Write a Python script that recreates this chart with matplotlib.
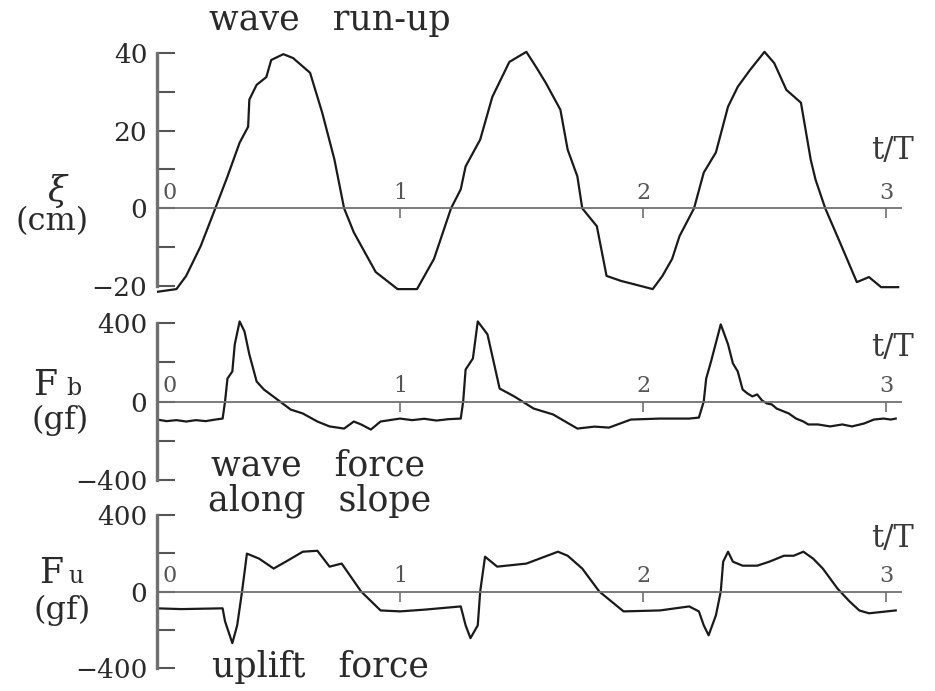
import matplotlib
matplotlib.use("Agg")
import matplotlib.pyplot as plt

plt.rcParams["font.family"] = ["DejaVu Serif"]
plt.rcParams["mathtext.fontset"] = "dejavuserif"

# ---- data -------------------------------------------------------------
t_runup = [0.00, 0.08, 0.12, 0.18, 0.24, 0.29, 0.34, 0.375, 0.38, 0.41, 0.45, 0.47,
           0.52, 0.56, 0.63, 0.68, 0.73, 0.77, 0.81, 0.90, 0.99, 1.07, 1.14, 1.21,
           1.25, 1.27, 1.33, 1.38, 1.45, 1.52, 1.56, 1.60, 1.66, 1.69, 1.73, 1.75,
           1.81, 1.85, 1.91, 1.96, 2.04, 2.08, 2.12, 2.15, 2.21, 2.25, 2.30, 2.35,
           2.39, 2.44, 2.50, 2.54, 2.59, 2.65, 2.69, 2.71, 2.75, 2.81, 2.88, 2.93,
           2.98, 3.05]
xi_runup = [-21.5, -20.8, -17.4, -9.7, 0.0, 8.2, 16.9, 21.0, 28.0, 31.8, 33.8, 38.2,
            39.7, 38.7, 34.9, 24.6, 12.6, 0.0, -6.2, -16.4, -20.8, -20.8, -13.0, 0.0,
            4.9, 10.8, 17.7, 28.7, 37.7, 40.3, 36.4, 32.3, 25.4, 15.1, 8.2, 0.0,
            -4.6, -17.4, -18.7, -19.5, -20.8, -17.4, -13.0, -7.2, 0.0, 9.2, 14.4, 26.2,
            31.3, 35.6, 40.3, 37.4, 30.5, 27.2, 12.6, 7.4, 0.0, -8.7, -19.0, -17.7,
            -20.3, -20.3]

t_fb = [0.00, 0.04, 0.08, 0.12, 0.16, 0.20, 0.24, 0.27, 0.28, 0.29, 0.31, 0.32,
        0.34, 0.36, 0.38, 0.41, 0.44, 0.49, 0.55, 0.60, 0.66, 0.71, 0.77, 0.81,
        0.84, 0.88, 0.92, 1.00, 1.05, 1.10, 1.15, 1.20, 1.25, 1.26, 1.27, 1.30,
        1.32, 1.36, 1.41, 1.47, 1.55, 1.63, 1.73, 1.80, 1.86, 1.95, 2.07, 2.19,
        2.23, 2.25, 2.26, 2.28, 2.32, 2.35, 2.37, 2.39, 2.41, 2.43, 2.45, 2.47,
        2.49, 2.51, 2.53, 2.55, 2.58, 2.60, 2.63, 2.66, 2.68, 2.72, 2.77, 2.82,
        2.86, 2.91, 2.95, 2.99, 3.02, 3.04]
fb_val = [-92, -100, -95, -102, -95, -100, -92, -87, 0, 117, 153, 291,
          408, 357, 240, 102, 61, 15, -41, -61, -102, -127, -138, -102,
          -117, -143, -102, -87, -95, -88, -97, -90, -87, 0, 163, 219,
          408, 342, 66, 26, -36, -66, -138, -128, -133, -92, -87, -87,
          -82, 0, 117, 204, 393, 291, 194, 153, 61, 41, 26, 36,
          5, -10, -15, -36, -51, -61, -87, -102, -117, -117, -127, -117,
          -127, -112, -92, -87, -92, -87]

t_fu = [0.00, 0.10, 0.27, 0.28, 0.31, 0.33, 0.35, 0.37, 0.42, 0.48, 0.53, 0.60,
        0.66, 0.71, 0.76, 0.84, 0.92, 1.00, 1.10, 1.25, 1.27, 1.29, 1.32, 1.33,
        1.35, 1.40, 1.52, 1.65, 1.69, 1.75, 1.82, 1.92, 2.07, 2.19, 2.23, 2.25,
        2.27, 2.30, 2.32, 2.33, 2.35, 2.37, 2.41, 2.47, 2.52, 2.58, 2.62, 2.66,
        2.70, 2.74, 2.80, 2.85, 2.89, 2.93, 3.04]
fu_val = [-88, -92, -88, -156, -270, -177, 0, 198, 172, 120, 156, 208,
          213, 130, 146, 0, -99, -104, -95, -78, -177, -244, -177, 0,
          182, 130, 146, 208, 187, 120, 0, -104, -99, -78, -104, -177,
          -229, -125, 0, 156, 208, 156, 135, 135, 156, 187, 187, 208,
          172, 120, 16, -52, -99, -114, -99]

period_ticks = [0, 1, 2, 3]
period_labels = ["0", "1", "2", "3"]

runup_ticks = [-20, -10, 0, 10, 20, 30, 40]
runup_labels = ["\u221220", "", "0", "", "20", "", "40"]
force_ticks = [-400, -200, 0, 200, 400]
force_labels = ["\u2212400", "", "0", "", "400"]

# ---- figure -----------------------------------------------------------
W, H = 935, 691
fig = plt.figure(figsize=(W / 100, H / 100), dpi=100)

T_END = 3.06
X0, PX_PER_T = 157, 243.0
INK = "#1a1a1a"


def add_panel(top_px, bot_px, ylim):
    ax = fig.add_axes([X0 / W, 1 - bot_px / H, (W - X0) / W, (bot_px - top_px) / H])
    ax.set_xlim(0, (W - X0) / PX_PER_T)
    ax.set_ylim(*ylim)
    ax.patch.set_alpha(0)
    return ax


def style_panel(ax, yticks, ylabels, ybounds):
    for s in ("top", "right"):
        ax.spines[s].set_visible(False)
    ax.spines["left"].set_bounds(*ybounds)
    ax.spines["left"].set_linewidth(2.4)
    ax.spines["left"].set_color("#707070")
    ax.spines["bottom"].set_position(("data", 0))
    ax.spines["bottom"].set_bounds(0, T_END)
    ax.spines["bottom"].set_color("#707070")
    ax.spines["bottom"].set_linewidth(1.3)
    ax.set_yticks(yticks)
    ax.set_yticklabels(ylabels)
    ax.tick_params(axis="y", direction="in", length=13, width=1.5,
                   color="#555555", pad=7, labelsize=19, labelcolor="#2a2a2a")
    ax.set_xticks(period_ticks[1:])
    ax.set_xticklabels([])
    ax.tick_params(axis="x", direction="out", length=7, width=1.2, color="#707070")
    for tk, lb in zip(period_ticks, period_labels):
        dx = 9 if tk == 0 else 0
        ax.annotate(lb, (tk, 0), xytext=(dx, 3), textcoords="offset points",
                    ha="center", va="bottom", fontsize=16, color="#555555")


def ftext(x, y, s, **kw):
    kw.setdefault("color", "#2a2a2a")
    fig.text(x / W, 1 - y / H, s, **kw)


# top: wave run-up
ax1 = add_panel(40, 300, (-20 - 14 / 3.883, 40 + 13 / 3.883))
ax1.plot(t_runup, xi_runup, color=INK, lw=1.6)
style_panel(ax1, runup_ticks, runup_labels, (-20, 40))

# middle: wave force along slope
ax2 = add_panel(310, 490, (-400 - 10 / 0.19625, 400 + 13 / 0.19625))
ax2.plot(t_fb, fb_val, color=INK, lw=1.6)
style_panel(ax2, force_ticks, force_labels, (-400, 400))

# bottom: uplift force
ax3 = add_panel(500, 680, (-400 - 12 / 0.19125, 400 + 15 / 0.19125))
ax3.plot(t_fu, fu_val, color=INK, lw=1.6)
style_panel(ax3, force_ticks, force_labels, (-400, 400))

# panel captions
ftext(330, 30, "wave   run-up", ha="center", va="baseline", fontsize=25)
ftext(318, 475, "wave   force", ha="center", va="baseline", fontsize=25)
ftext(320, 510, "along   slope", ha="center", va="baseline", fontsize=25)
ftext(320, 677, "uplift   force", ha="center", va="baseline", fontsize=25)

for y in (159, 356, 547):
    ftext(893, y, "t/T", ha="center", va="baseline", fontsize=22, color="#3a3a3a")

# axis quantity labels
ftext(58, 191, r"$\xi$", ha="center", va="center", fontsize=25)
ftext(52, 222, "(cm)", ha="center", va="center", fontsize=23)
ftext(57, 395, "F", ha="right", va="baseline", fontsize=25)
ftext(66, 395, "b", ha="left", va="baseline", fontsize=17)
ftext(60, 420, "(gf)", ha="center", va="center", fontsize=23)
ftext(63, 583, "F", ha="right", va="baseline", fontsize=25)
ftext(68, 583, "u", ha="left", va="baseline", fontsize=17)
ftext(62, 610, "(gf)", ha="center", va="center", fontsize=23)

fig.savefig("out.png", dpi=100)
